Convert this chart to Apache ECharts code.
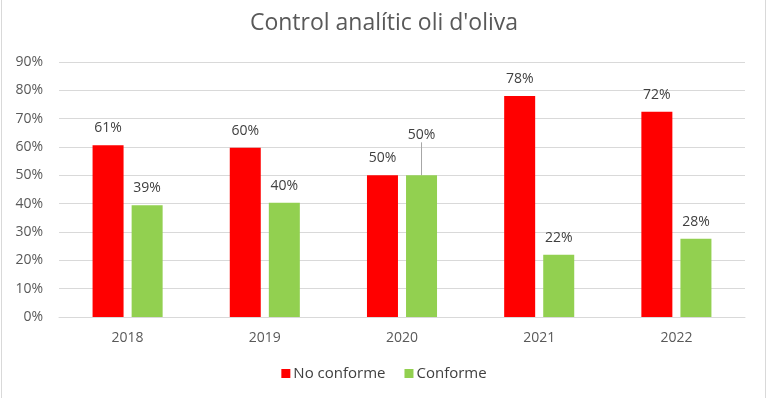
<!DOCTYPE html>
<html>
<head>
<meta charset="utf-8">
<script src="https://cdn.jsdelivr.net/npm/echarts@6/dist/echarts.min.js"></script>
<style>
html,body{margin:0;padding:0;background:#fff;}
#c{width:768px;height:398px;}
</style>
</head>
<body>
<div id="c"></div>
<script>
const categories = ['2018', '2019', '2020', '2021', '2022'];
const noConforme = [60.6, 59.7, 50.0, 78.0, 72.4];
const conforme = [39.4, 40.3, 50.0, 22.0, 27.6];
const seriesNames = ['No conforme', 'Conforme'];
const yTicks = [0, 10, 20, 30, 40, 50, 60, 70, 80, 90];

const chart = echarts.init(document.getElementById('c'), null, {renderer: 'canvas'});
const font = '"Open Sans", "Liberation Sans", sans-serif';
const labelStyle = {
  show: true, position: 'top', distance: 10,
  formatter: p => Math.round(p.value) + '%',
  color: '#404040', fontSize: 14, fontFamily: font
};
chart.setOption({
  animation: false,
  title: {
    text: "Control analític oli d'oliva",
    left: 'center', top: 7,
    textStyle: {color: '#595959', fontSize: 23, fontWeight: 'normal', fontFamily: font}
  },
  graphic: [{
    type: 'rect', silent: true,
    shape: {x: 1.5, y: -5, width: 764, height: 410},
    style: {fill: 'none', stroke: '#d9d9d9', lineWidth: 1}
  }],
  legend: {
    data: seriesNames, bottom: 12, left: 'center',
    icon: 'rect', itemWidth: 9, itemHeight: 9, itemGap: 19,
    textStyle: {color: '#404040', fontSize: 15, fontFamily: font, padding: [0, 0, 0, -2]}
  },
  grid: {left: 59, right: 23, top: 62, bottom: 81},
  xAxis: {
    type: 'category', data: categories,
    axisLine: {show: true, lineStyle: {color: '#d9d9d9'}},
    axisTick: {show: false},
    axisLabel: {color: '#595959', fontSize: 14, fontFamily: font, margin: 14}
  },
  yAxis: {
    type: 'value', min: 0, max: yTicks[yTicks.length - 1], interval: 10,
    axisLabel: {formatter: v => v + '%', color: '#595959', fontSize: 14, fontFamily: font, margin: 16},
    splitLine: {lineStyle: {color: '#d9d9d9'}},
    axisLine: {show: false}, axisTick: {show: false}
  },
  series: [{
    name: seriesNames[0], type: 'bar', data: noConforme,
    barWidth: 31, barGap: '26%',
    itemStyle: {color: '#ff0000'},
    label: labelStyle
  }, {
    name: seriesNames[1], type: 'bar',
    data: conforme.map((v, i) => i === 2 ? {value: v, labelLine: {show: true}} : v),
    barWidth: 31,
    itemStyle: {color: '#92d050'},
    label: labelStyle,
    labelLayout: p => p.dataIndex === 2 ? {dy: -23} : {},
    labelLine: {show: false, lineStyle: {color: '#a6a6a6', width: 1}}
  }]
});
</script>
</body>
</html>
